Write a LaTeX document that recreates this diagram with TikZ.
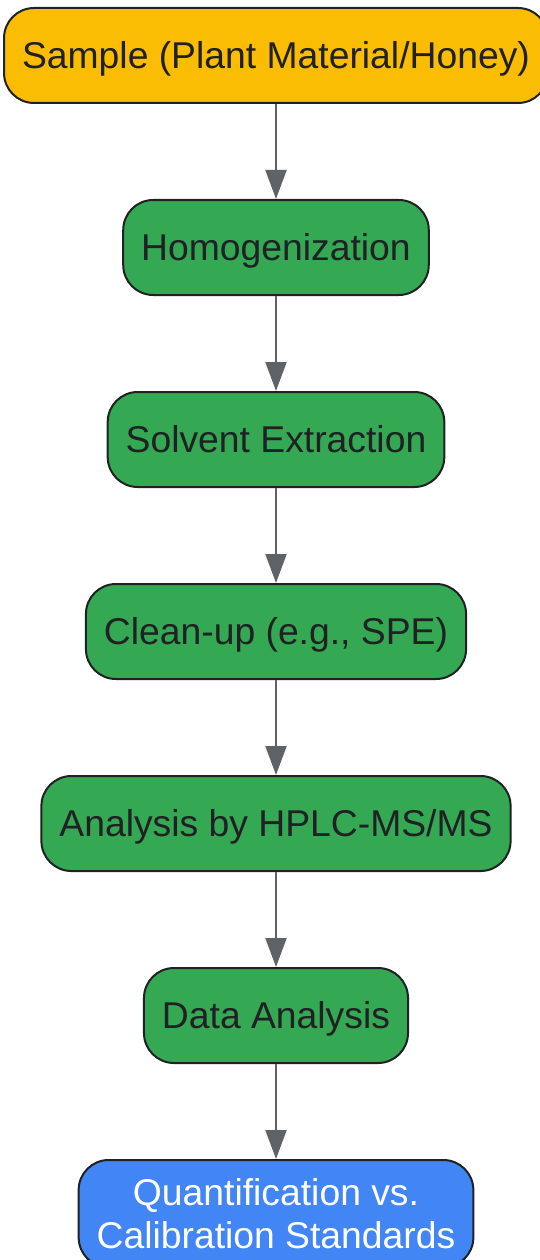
\documentclass[tikz,border=0pt]{standalone}
\usepackage{fontspec}
\setmainfont{Liberation Sans}
\usetikzlibrary{positioning,arrows.meta}
\definecolor{sampleyellow}{HTML}{FBBC04}
\definecolor{stepgreen}{HTML}{34A853}
\definecolor{resultblue}{HTML}{4285F4}
\definecolor{arrowgray}{HTML}{5F6368}
\definecolor{textdark}{HTML}{202124}
\tikzset{every picture/.style={line width=2pt}}
\tikzset{
  box/.style={draw=textdark, rounded corners=30pt, minimum height=95pt, inner xsep=18pt,
    text=textdark, font=\fontsize{37.3}{43}\selectfont, align=center},
  oneline/.style={text height=34pt, text depth=8pt},
  samplebox/.style={box, oneline, fill=sampleyellow},
  stepbox/.style={box, oneline, fill=stepgreen},
  resultbox/.style={box, inner ysep=18.5pt, fill=resultblue, text=white},
  flow/.style={draw=arrowgray, -{Triangle[width=21pt,length=29pt]}}
}
\begin{document}
\begin{tikzpicture}[node distance=95pt]
  \useasboundingbox (0,0) rectangle (540pt,-1260pt);
  \node[samplebox] (sample) at (276pt,-55.5pt) {Sample (Plant Material/Honey)};
  \node[stepbox, below=of sample] (homog) {Homogenization};
  \node[stepbox, below=of homog] (extract) {Solvent Extraction};
  \node[stepbox, below=of extract] (cleanup) {Clean-up (e.g., SPE)};
  \node[stepbox, below=of cleanup] (hplc) {Analysis by HPLC-MS/MS};
  \node[stepbox, below=of hplc] (data) {Data Analysis};
  \node[resultbox, below=of data] (quant) {Quantification vs.\\Calibration Standards};

  \draw[flow] (sample) -- (homog);
  \draw[flow] (homog) -- (extract);
  \draw[flow] (extract) -- (cleanup);
  \draw[flow] (cleanup) -- (hplc);
  \draw[flow] (hplc) -- (data);
  \draw[flow] (data) -- (quant);
\end{tikzpicture}
\end{document}
